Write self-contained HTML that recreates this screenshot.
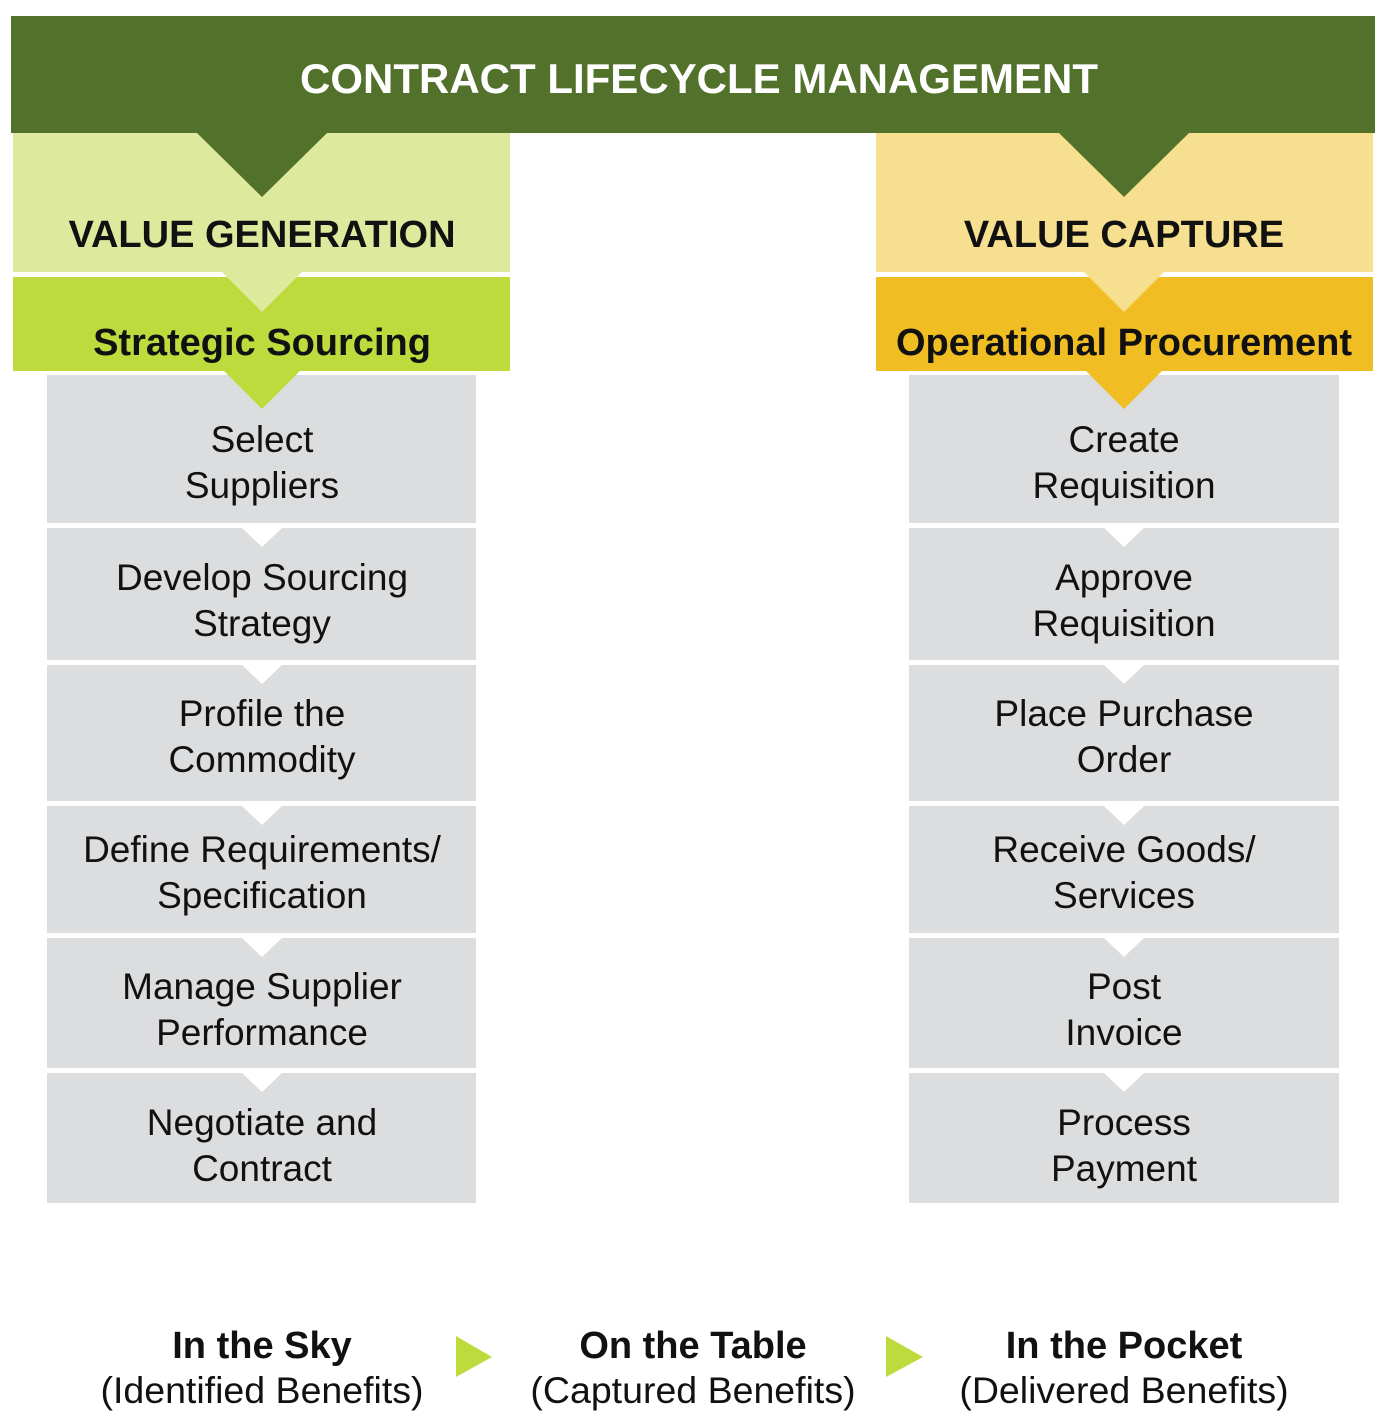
<!DOCTYPE html>
<html><head><meta charset="utf-8"><style>
html,body{margin:0;padding:0;background:#fff;}
svg{display:block;}
text{font-family:"Liberation Sans",Arial,sans-serif;}
</style></head><body>
<svg width="1380" height="1425" viewBox="0 0 1380 1425" xmlns="http://www.w3.org/2000/svg">
<rect x="0" y="0" width="1380" height="1425" fill="#fff"/>
<rect x="13" y="133" width="497" height="139" fill="#dde99d"/>
<rect x="13" y="277" width="497" height="94" fill="#bedb3d"/>
<rect x="876" y="133" width="497" height="139" fill="#f6df8f"/>
<rect x="876" y="277" width="497" height="94" fill="#f0be22"/>
<g fill="#dcddde">
<rect x="47" y="375" width="429" height="148"/><rect x="47" y="528" width="429" height="132"/>
<rect x="47" y="665" width="429" height="136"/><rect x="47" y="806" width="429" height="127"/>
<rect x="47" y="938" width="429" height="130"/><rect x="47" y="1073" width="429" height="130"/>
<rect x="909" y="375" width="430" height="148"/><rect x="909" y="528" width="430" height="132"/>
<rect x="909" y="665" width="430" height="136"/><rect x="909" y="806" width="430" height="127"/>
<rect x="909" y="938" width="430" height="130"/><rect x="909" y="1073" width="430" height="130"/>
</g>
<g fill="#fff">
<polygon points="242,528 282,528 262,547"/><polygon points="242,665 282,665 262,684"/>
<polygon points="242,806 282,806 262,825"/><polygon points="242,938 282,938 262,957"/>
<polygon points="242,1073 282,1073 262,1092"/>
<polygon points="1104,528 1144,528 1124,547"/><polygon points="1104,665 1144,665 1124,684"/>
<polygon points="1104,806 1144,806 1124,825"/><polygon points="1104,938 1144,938 1124,957"/>
<polygon points="1104,1073 1144,1073 1124,1092"/>
</g>
<rect x="11" y="16" width="1364" height="117" fill="#52712a"/>
<polygon points="197,133 327,133 262,197" fill="#52712a"/>
<polygon points="1059,133 1189,133 1124,197" fill="#52712a"/>
<polygon points="222,272 302,272 262,312" fill="#dde99d"/>
<polygon points="224,371 300,371 262,409" fill="#bedb3d"/>
<polygon points="1084,272 1164,272 1124,312" fill="#f6df8f"/>
<polygon points="1086,371 1162,371 1124,409" fill="#f0be22"/>
<text x="699" y="93" text-anchor="middle" font-size="42" font-weight="bold" fill="#fff">CONTRACT LIFECYCLE MANAGEMENT</text>
<g font-weight="bold" font-size="38" fill="#111" text-anchor="middle">
<text x="262" y="247">VALUE GENERATION</text>
<text x="1124" y="247">VALUE CAPTURE</text>
<text x="262" y="355">Strategic Sourcing</text>
<text x="1124" y="355">Operational Procurement</text>
</g>
<g font-size="37" fill="#111" text-anchor="middle">
<text x="262" y="452">Select</text><text x="262" y="498">Suppliers</text>
<text x="262" y="590">Develop Sourcing</text><text x="262" y="636">Strategy</text>
<text x="262" y="726">Profile the</text><text x="262" y="772">Commodity</text>
<text x="262" y="862">Define Requirements/</text><text x="262" y="908">Specification</text>
<text x="262" y="999">Manage Supplier</text><text x="262" y="1045">Performance</text>
<text x="262" y="1135">Negotiate and</text><text x="262" y="1181">Contract</text>
<text x="1124" y="452">Create</text><text x="1124" y="498">Requisition</text>
<text x="1124" y="590">Approve</text><text x="1124" y="636">Requisition</text>
<text x="1124" y="726">Place Purchase</text><text x="1124" y="772">Order</text>
<text x="1124" y="862">Receive Goods/</text><text x="1124" y="908">Services</text>
<text x="1124" y="999">Post</text><text x="1124" y="1045">Invoice</text>
<text x="1124" y="1135">Process</text><text x="1124" y="1181">Payment</text>
</g>
<polygon points="456,1336 492,1357 456,1377" fill="#bedb3d"/>
<polygon points="886,1336 923,1357 886,1377" fill="#bedb3d"/>
<g fill="#111" text-anchor="middle">
<text x="262" y="1358" font-weight="bold" font-size="38">In the Sky</text>
<text x="693" y="1358" font-weight="bold" font-size="38">On the Table</text>
<text x="1124" y="1358" font-weight="bold" font-size="38">In the Pocket</text>
<text x="262" y="1403" font-size="37.5">(Identified Benefits)</text>
<text x="693" y="1403" font-size="37.5">(Captured Benefits)</text>
<text x="1124" y="1403" font-size="37.5">(Delivered Benefits)</text>
</g>
</svg>
</body></html>
